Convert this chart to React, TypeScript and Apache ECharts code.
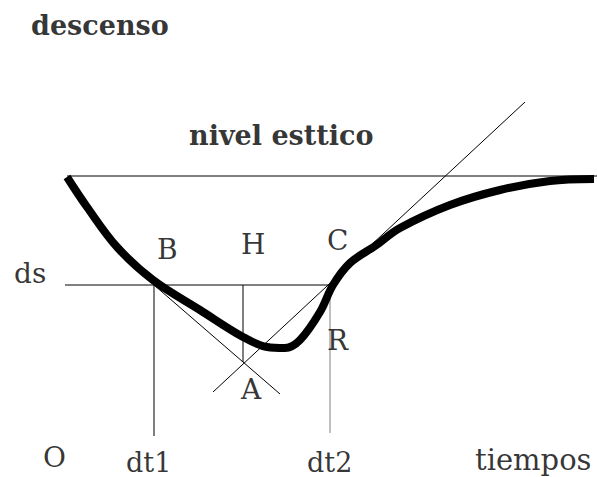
import React, { useEffect, useRef } from "react";
import * as echarts from "echarts";

// Diagram coordinate system: x = time units (0..597), y = drawdown units (0..477, downward)
const curveX = [67, 87, 117, 153, 200, 243, 267, 285, 300, 320, 333, 350, 375, 400, 450, 500, 550, 594];
const curveY = [177, 207, 247, 280, 310, 337, 347, 348, 340, 312, 285, 263, 246, 228, 205, 190, 181, 179];

// thin construction lines: [x1, y1, x2, y2]
const segNames = ["nivel", "ds", "dt1", "dt2", "H", "tanB", "tanC"];
const segX1 = [67, 65, 154, 330, 243, 154, 213];
const segY1 = [176, 285, 285, 285, 285, 285, 392];
const segX2 = [597, 330, 154, 330, 243, 280, 525];
const segY2 = [176, 285, 436, 433, 362, 394, 102];
const segColors = ["#000", "#000", "#000", "#808080", "#000", "#000", "#000"];

// labels
const labelTexts = ["descenso", "nivel esttico", "B", "H", "C", "ds", "R", "A", "O", "dt1", "dt2", "tiempos"];
const labelX = [31, 189, 157, 241, 327, 14, 327, 241, 43, 126, 307, 475];
const labelY = [25, 135, 249, 244, 240, 273, 340, 389, 457, 462, 462, 460];
const labelSize = [27, 27, 28, 28, 28, 28, 28, 28, 28, 27, 27, 29];
const labelBold = [true, true, false, false, false, false, false, false, false, false, false, false];

const SERIF = "DejaVu Serif";

export default function App() {
  const ref = useRef<HTMLDivElement>(null);
  useEffect(() => {
    document.body.style.margin = "0";
    const chart = echarts.init(ref.current!, null, { renderer: "svg" });
    const lineSeries = segNames.map((n, i) => ({
      type: "line",
      name: n,
      data: [
        [segX1[i], segY1[i]],
        [segX2[i], segY2[i]],
      ],
      symbol: "none",
      lineStyle: { color: segColors[i], width: 1 },
      silent: true,
      z: 2,
    }));
    chart.setOption({
      animation: false,
      backgroundColor: "#fff",
      textStyle: { fontFamily: SERIF },
      grid: { left: 0, right: 0, top: 0, bottom: 0 },
      xAxis: { type: "value", min: 0, max: 597, show: false },
      yAxis: { type: "value", min: 0, max: 477, inverse: true, show: false },
      series: [
        ...lineSeries,
        {
          type: "line",
          name: "curve",
          data: curveX.map((x, i) => [x, curveY[i]]),
          smooth: 0.35,
          symbol: "none",
          lineStyle: { color: "#000", width: 8, cap: "butt" },
          z: 3,
        },
        {
          type: "scatter",
          name: "labels",
          symbolSize: 0,
          data: labelTexts.map((t, i) => ({
            name: t,
            value: [labelX[i], labelY[i]],
            label: {
              show: true,
              position: [0, 0],
              align: "left",
              verticalAlign: "middle",
              formatter: t,
              fontFamily: SERIF,
              fontSize: labelSize[i],
              fontWeight: labelBold[i] ? "bold" : "normal",
              color: "#000",
            },
          })),
          z: 4,
        },
      ],
    });
    return () => chart.dispose();
  }, []);
  return <div ref={ref} style={{ width: 597, height: 477 }} />;
}
